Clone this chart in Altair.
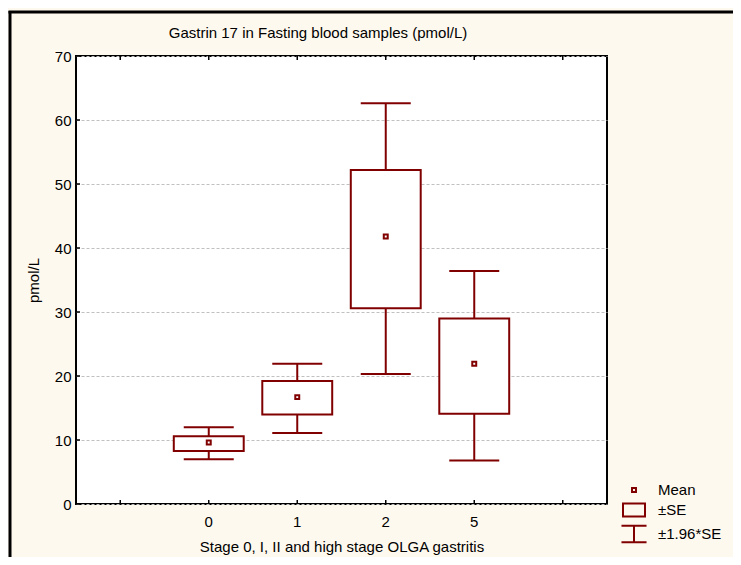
import altair as alt
import pandas as pd

# ---- data ----
stages = ["0", "1", "2", "5"]
mean_vals = [9.6, 16.7, 41.8, 21.9]
se_low = [8.3, 14.0, 30.6, 14.1]
se_high = [10.6, 19.2, 52.2, 29.0]
ci_low = [7.0, 11.1, 20.3, 6.8]
ci_high = [12.0, 21.9, 62.6, 36.4]

slots = ["L", "0", "1", "2", "5", "R"]
y_ticks = [0, 10, 20, 30, 40, 50, 60, 70]
legend_labels = ["Mean", "±SE", "±1.96*SE"]
title_text = "Gastrin 17 in Fasting blood samples (pmol/L)"
x_title = "Stage 0, I, II and high stage OLGA gastritis"
y_title = "pmol/L"

MAROON = "#800000"
FONT = "Liberation Sans"
FS = 15

df = pd.DataFrame({
    "stage": stages, "mean": mean_vals, "se_low": se_low, "se_high": se_high,
    "ci_low": ci_low, "ci_high": ci_high, "stat": ["Mean"] * len(stages),
})
slot_df = pd.DataFrame({"stage": slots})
ytick_df = pd.DataFrame({"v": y_ticks})
one = pd.DataFrame({"t": [title_text]})

xscale = alt.Scale(domain=slots, paddingInner=0, paddingOuter=0)
yscale = alt.Scale(domain=[0, 70], nice=False, zero=False)

x_axis = alt.Axis(
    title=x_title,
    labelExpr="(datum.value == 'L' || datum.value == 'R') ? '' : datum.value",
    ticks=False, domain=False, labelAngle=0, labelPadding=10, titlePadding=10,
    labelFontSize=FS, titleFontSize=FS, labelFont=FONT, titleFont=FONT,
    labelColor="black", titleColor="black", titleFontWeight="normal", grid=False,
)
y_axis = alt.Axis(
    title=y_title, values=y_ticks, ticks=False, domain=False, grid=True,
    gridDash=[3, 2], gridColor="#c0c0c0", gridWidth=1, labelPadding=5,
    titlePadding=13, labelFontSize=FS, titleFontSize=FS, labelFont=FONT,
    titleFont=FONT, labelColor="black", titleColor="black",
    titleFontWeight="normal",
)


def X():
    return alt.X("stage:N", scale=xscale, axis=x_axis)


def Y(field):
    return alt.Y(field, type="quantitative", scale=yscale, axis=y_axis)


whisker = alt.Chart(df).mark_rule(color=MAROON, strokeWidth=2).encode(
    x=X(), y=Y("ci_low"), y2="ci_high:Q",
)
cap_low = alt.Chart(df).mark_tick(color=MAROON, thickness=2, size=50, orient="horizontal", opacity=1).encode(
    x=X(), y=Y("ci_low")
)
cap_high = alt.Chart(df).mark_tick(color=MAROON, thickness=2, size=50, orient="horizontal", opacity=1).encode(
    x=X(), y=Y("ci_high")
)
box = alt.Chart(df).mark_bar(
    fill="white", stroke=MAROON, strokeWidth=2, width=alt.RelativeBandSize(0.79), opacity=1
).encode(
    x=X(), y=Y("se_low"), y2="se_high:Q"
)

p_mean = "M-0.18,-0.18H0.18V0.18H-0.18Z"
p_box = "M-1,-0.6H1V0.6H-1Z"
p_whisk = "M-1.14,-0.76H1.14M0,-0.76V0.76M-1.14,0.76H1.14"

mean_pt = alt.Chart(df).mark_point(
    filled=False, stroke=MAROON, strokeWidth=2, size=484, opacity=1
).encode(
    x=X(),
    y=Y("mean"),
    shape=alt.Shape(
        "stat:N",
        scale=alt.Scale(domain=legend_labels, range=[p_mean, p_box, p_whisk]),
        legend=alt.Legend(
            title=None, orient="none", legendX=546, legendY=422,
            symbolSize=484, symbolStrokeColor=MAROON, symbolFillColor="transparent",
            symbolStrokeWidth=2, symbolOpacity=1, labelFontSize=FS, labelFont=FONT,
            labelColor="black", labelOffset=12, rowPadding=0, padding=0,
        ),
    ),
)

# inward ticks
bottom_ticks = alt.Chart(slot_df).mark_rule(color="black", strokeWidth=1.5).encode(
    x=X(), y=alt.value(448), y2=alt.value(444)
)
top_ticks = alt.Chart(slot_df).mark_rule(color="black", strokeWidth=1.5).encode(
    x=X(), y=alt.value(0), y2=alt.value(4)
)
left_ticks = alt.Chart(ytick_df).mark_rule(color="black", strokeWidth=1.5).encode(
    y=Y("v"), x=alt.value(0), x2=alt.value(4)
)

# chart title as text
title_mark = alt.Chart(one).mark_text(
    fontSize=FS, font=FONT, color="black", align="center", baseline="middle"
).encode(text="t:N", x=alt.value(242), y=alt.value(-23))

# outer figure frame
frame_v = alt.Chart(one).mark_rule(color="black", strokeWidth=3).encode(
    x=alt.value(-66), y=alt.value(-45), y2=alt.value(560)
)
frame_h = alt.Chart(one).mark_rule(color="black", strokeWidth=3).encode(
    x=alt.value(-67.5), x2=alt.value(700), y=alt.value(-44)
)

chart = alt.layer(
    whisker, cap_low, cap_high, box, mean_pt, bottom_ticks, top_ticks, left_ticks,
    title_mark, frame_v, frame_h,
).properties(
    width=531, height=448,
    autosize=alt.AutoSizeParams(type="none"),
    padding={"left": 68, "top": 48, "right": 126, "bottom": 53},
    background="#FEF9EE",
).configure_view(
    stroke="black", strokeWidth=2, fill="white"
)

chart.save("out.html", embed_options={"renderer": "svg", "actions": False})
